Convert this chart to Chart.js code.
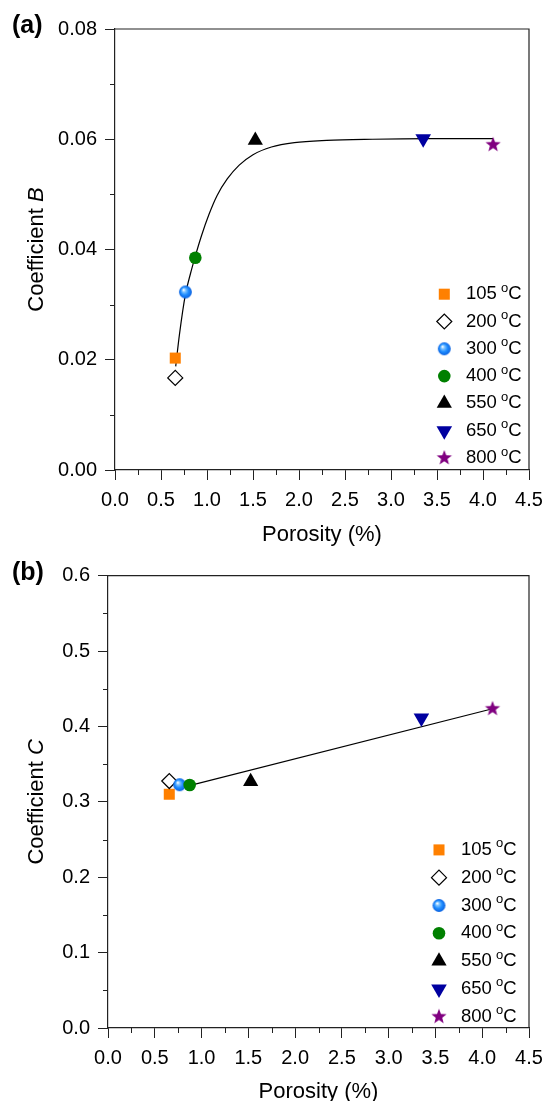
<!DOCTYPE html>
<html>
<head>
<meta charset="utf-8">
<script src="https://cdn.jsdelivr.net/npm/chart.js@4.4.1/dist/chart.umd.min.js"></script>
<style>
  html, body { margin: 0; padding: 0; background: #fff; }
  .panel { position: absolute; left: 0; width: 552px; }
  #panelA { top: 0; height: 550px; }
  #panelB { top: 550px; height: 551px; }
</style>
</head>
<body>
<div class="panel" id="panelA"><canvas id="chartA" width="552" height="550"></canvas></div>
<div class="panel" id="panelB"><canvas id="chartB" width="552" height="551"></canvas></div>
<script>
/* ==================== DATA ==================== */
const temps = [105, 200, 300, 400, 550, 650, 800];
const porosity = [0.655, 0.655, 0.765, 0.873, 1.525, 3.35, 4.11];
const coeffB = [0.0203, 0.0167, 0.0323, 0.0385, 0.0598, 0.0601, 0.0590];
const coeffC = [0.310, 0.3276, 0.3227, 0.3223, 0.3269, 0.4111, 0.4235];

// fitted curve in (a)
const fitBX = [0.66, 0.70, 0.765, 0.82, 0.873, 0.94, 1.02, 1.11, 1.22, 1.35, 1.50, 1.70, 1.95, 2.3, 2.8, 3.4, 4.11];
const fitBY = [0.0188, 0.0245, 0.0318, 0.0356, 0.0388, 0.0425, 0.0463, 0.0498, 0.0528, 0.0553, 0.0572, 0.0586, 0.0594, 0.0598, 0.0600, 0.0601, 0.0601];

// linear fit in (b)
const fitCX = [0.87, 4.11];
const fitCY = [0.3215, 0.4235];

/* ==================== MARKERS ==================== */
const FONT = '"Liberation Sans", Arial, sans-serif';
const axisColor = '#222';

function makeStar(color, R) {
    const s = Math.ceil(R * 2 + 2);
    const c = document.createElement('canvas');
    c.width = c.height = s;
    const g = c.getContext('2d');
    const r = R * 0.42;
    g.beginPath();
    for (let i = 0; i < 10; i++) {
        const a = -Math.PI / 2 + i * Math.PI / 5;
        const rr = i % 2 ? r : R;
        g.lineTo(s / 2 + rr * Math.cos(a), s / 2 + rr * Math.sin(a));
    }
    g.closePath();
    g.fillStyle = color;
    g.fill();
    return c;
}

function makeSphere(R) {
    const s = Math.ceil(R * 2 + 2);
    const c = document.createElement('canvas');
    c.width = c.height = s;
    const g = c.getContext('2d');
    const grd = g.createRadialGradient(s / 2 - R * 0.3, s / 2 - R * 0.35, R * 0.05, s / 2, s / 2, R);
    grd.addColorStop(0, '#ffffff');
    grd.addColorStop(0.25, '#7cc2ff');
    grd.addColorStop(0.6, '#1e8cff');
    grd.addColorStop(1, '#0b62e0');
    g.beginPath();
    g.arc(s / 2, s / 2, R, 0, Math.PI * 2);
    g.fillStyle = grd;
    g.fill();
    return c;
}

const markerStyles = [
    { pointStyle: 'rect', radius: 7.8, bg: '#ff8000', border: '#ff8000', bw: 0 },
    { pointStyle: 'rectRot', radius: 7.5, bg: '#ffffff', border: '#000000', bw: 1.2 },
    { pointStyle: makeSphere(6.4), radius: 6.4, bg: '#1e8cff', border: '#1e8cff', bw: 0 },
    { pointStyle: 'circle', radius: 6.3, bg: '#008000', border: '#008000', bw: 0 },
    { pointStyle: 'triangle', radius: 8.8, bg: '#000000', border: '#000000', bw: 0 },
    { pointStyle: 'triangle', radius: 9, rotation: 180, bg: '#0000a0', border: '#0000a0', bw: 0 },
    { pointStyle: makeStar('#800080', 8), radius: 8, bg: '#800080', border: '#800080', bw: 0 }
];

function markerDatasets(values) {
    return temps.map((t, i) => ({
        label: t + ' °C',
        data: [{ x: porosity[i], y: values[i] }],
        pointStyle: markerStyles[i].pointStyle,
        pointRadius: markerStyles[i].radius,
        pointRotation: markerStyles[i].rotation || 0,
        backgroundColor: markerStyles[i].bg,
        borderColor: markerStyles[i].border,
        borderWidth: markerStyles[i].bw,
        order: temps.length - i
    }));
}

function fitDataset(xs, ys, curved) {
    return {
        label: 'fit',
        data: xs.map((x, i) => ({ x: x, y: ys[i] })),
        showLine: true,
        pointRadius: 0,
        borderColor: '#000',
        borderWidth: 1.2,
        cubicInterpolationMode: curved ? 'monotone' : 'default',
        fill: false,
        order: temps.length + 1
    };
}

/* ==================== PLUGINS ==================== */
// frame (top + right), minor ticks, y title with italic letter, panel letter
const decorations = {
    id: 'decorations',
    afterDraw(chart, args, opts) {
        const { ctx, chartArea, scales } = chart;
        ctx.save();
        ctx.strokeStyle = axisColor;
        ctx.lineWidth = 1.2;
        ctx.beginPath();
        ctx.moveTo(chartArea.left, chartArea.top);
        ctx.lineTo(chartArea.right, chartArea.top);
        ctx.lineTo(chartArea.right, chartArea.bottom);
        ctx.stroke();

        // minor ticks
        ctx.lineWidth = 1;
        const xs = scales.x, ys = scales.y;
        const xStep = xs.options.ticks.stepSize, yStep = ys.options.ticks.stepSize;
        for (let k = 0; xs.min + (k + 0.5) * xStep < xs.max; k++) {
            const px = Math.round(xs.getPixelForValue(xs.min + (k + 0.5) * xStep)) + 0.5;
            ctx.beginPath();
            ctx.moveTo(px, chartArea.bottom);
            ctx.lineTo(px, chartArea.bottom + 5);
            ctx.stroke();
        }
        for (let k = 0; ys.min + (k + 0.5) * yStep < ys.max; k++) {
            const py = Math.round(ys.getPixelForValue(ys.min + (k + 0.5) * yStep)) + 0.5;
            ctx.beginPath();
            ctx.moveTo(chartArea.left, py);
            ctx.lineTo(chartArea.left - 5, py);
            ctx.stroke();
        }

        // y axis title
        ctx.fillStyle = '#000';
        ctx.textBaseline = 'middle';
        ctx.textAlign = 'left';
        ctx.translate(opts.titleX, (chartArea.top + chartArea.bottom) / 2);
        ctx.rotate(-Math.PI / 2);
        const f1 = '22px ' + FONT, f2 = 'italic 22px ' + FONT;
        ctx.font = f1;
        const w1 = ctx.measureText(opts.title).width;
        ctx.font = f2;
        const w2 = ctx.measureText(opts.italic).width;
        const x0 = -(w1 + w2) / 2;
        ctx.font = f1;
        ctx.fillText(opts.title, x0, 0);
        ctx.font = f2;
        ctx.fillText(opts.italic, x0 + w1, 0);
        ctx.restore();

        // panel letter
        ctx.save();
        ctx.fillStyle = '#000';
        ctx.font = 'bold 25px ' + FONT;
        ctx.textBaseline = 'middle';
        ctx.fillText(opts.panel, 12, opts.panelY);
        ctx.restore();
    }
};

// legend inside the plot, bottom right
const insetLegend = {
    id: 'insetLegend',
    afterDatasetsDraw(chart, args, opts) {
        const { ctx, chartArea } = chart;
        ctx.save();
        temps.forEach((t, i) => {
            const m = markerStyles[i];
            const y = chartArea.bottom - opts.bottomGap - (temps.length - 1 - i) * opts.rowGap;
            const mx = chartArea.right - opts.markerFromRight;
            ctx.fillStyle = m.bg;
            ctx.strokeStyle = m.border;
            ctx.lineWidth = m.bw;
            Chart.helpers.drawPoint(ctx, {
                pointStyle: m.pointStyle,
                radius: m.radius,
                rotation: m.rotation || 0,
                borderWidth: m.bw
            }, mx, y);

            ctx.fillStyle = '#000';
            ctx.textBaseline = 'middle';
            ctx.textAlign = 'left';
            let tx = chartArea.right - opts.textFromRight;
            ctx.font = '18.5px ' + FONT;
            const main = t + ' ';
            ctx.fillText(main, tx, y);
            tx += ctx.measureText(main).width - 1;
            ctx.font = '13px ' + FONT;
            ctx.fillText('o', tx, y - 6);
            tx += ctx.measureText('o').width;
            ctx.font = '18.5px ' + FONT;
            ctx.fillText('C', tx, y);
        });
        ctx.restore();
    }
};

/* ==================== CHART FACTORY ==================== */
function initPanel(elementId, cfg) {
    return new Chart(document.getElementById(elementId), {
        type: 'scatter',
        data: {
            datasets: [...markerDatasets(cfg.values), fitDataset(cfg.fitX, cfg.fitY, cfg.curved)]
        },
        options: {
            responsive: false,
            animation: false,
            events: [],
            layout: { padding: cfg.padding },
            plugins: {
                legend: { display: false },
                tooltip: { enabled: false },
                decorations: cfg.deco,
                insetLegend: cfg.legend
            },
            scales: {
                x: {
                    type: 'linear',
                    min: 0,
                    max: 4.5,
                    afterFit: (scale) => { scale.height = cfg.xHeight; },
                    ticks: {
                        stepSize: 0.5,
                        color: '#000',
                        padding: 8,
                        font: { family: FONT, size: 20 },
                        callback: (v) => v.toFixed(1)
                    },
                    grid: {
                        drawOnChartArea: false,
                        drawTicks: true,
                        tickLength: 10,
                        color: axisColor
                    },
                    border: { display: true, color: axisColor, width: 1.2 },
                    title: {
                        display: true,
                        text: 'Porosity (%)',
                        color: '#000',
                        font: { family: FONT, size: 22, lineHeight: 0.8 },
                        padding: { top: 0, bottom: cfg.xTitlePad }
                    }
                },
                y: {
                    type: 'linear',
                    min: 0,
                    max: cfg.yMax,
                    afterFit: (scale) => { scale.width = cfg.yWidth; },
                    ticks: {
                        stepSize: cfg.yStep,
                        color: '#000',
                        padding: 8,
                        font: { family: FONT, size: 20 },
                        callback: (v) => v.toFixed(cfg.yDigits)
                    },
                    grid: {
                        drawOnChartArea: false,
                        drawTicks: true,
                        tickLength: 10,
                        color: axisColor
                    },
                    border: { display: true, color: axisColor, width: 1.2 }
                }
            }
        },
        plugins: [decorations, insetLegend]
    });
}

initPanel('chartA', {
    values: coeffB, fitX: fitBX, fitY: fitBY, curved: true,
    padding: { left: 0, right: 23, top: 29, bottom: 0 },
    xHeight: 80, yWidth: 115, xTitlePad: 6.6,
    yMax: 0.08, yStep: 0.02, yDigits: 2,
    deco: { title: 'Coefficient ', italic: 'B', titleX: 37, panel: '(a)', panelY: 26 },
    legend: { bottomGap: 12, rowGap: 27.3, markerFromRight: 84.7, textFromRight: 63 }
});

initPanel('chartB', {
    values: coeffC, fitX: fitCX, fitY: fitCY, curved: false,
    padding: { left: 0, right: 23, top: 25.7, bottom: 0 },
    xHeight: 73, yWidth: 108, xTitlePad: 0.6,
    yMax: 0.6, yStep: 0.1, yDigits: 1,
    deco: { title: 'Coefficient ', italic: 'C', titleX: 37, panel: '(b)', panelY: 23.5 },
    legend: { bottomGap: 11.3, rowGap: 27.8, markerFromRight: 90, textFromRight: 68 }
});
</script>
</body>
</html>
